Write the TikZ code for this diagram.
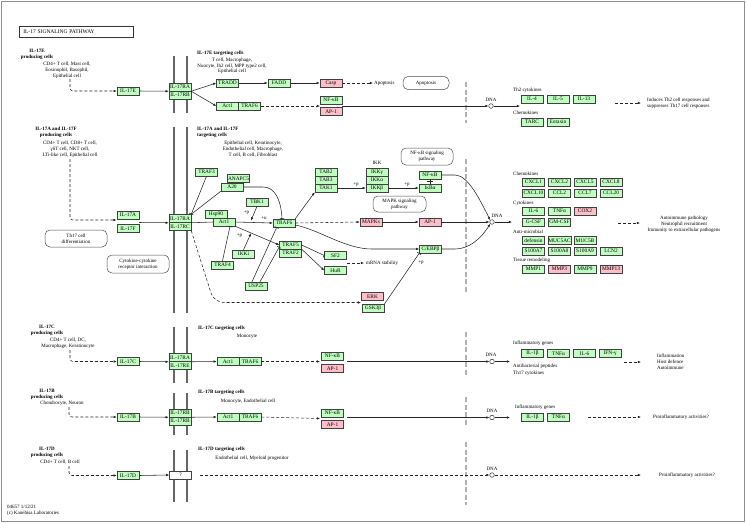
\documentclass[tikz,border=0pt]{standalone}
\usepackage{fontspec}
\setmainfont{Liberation Serif}
\usetikzlibrary{arrows.meta,calc}
\definecolor{kgreen}{RGB}{191,255,191}
\definecolor{kpink}{RGB}{255,190,200}
\newcommand\kgf{\fontsize{5}{6}\selectfont}
\newcommand\kgb{\fontsize{5.4}{6}\selectfont}
\begin{document}
\begin{tikzpicture}[x=1pt,y=-1pt,
 gene/.style={draw=black!75, fill=kgreen, minimum width=22pt, minimum height=8pt, inner sep=0pt, font=\kgb, line width=0.5pt},
 pgene/.style={gene, fill=kpink},
 wgene/.style={gene, fill=white},
 lbl/.style={font=\kgf, align=center, inner sep=0pt},
 blbl/.style={font=\kgf\bfseries, align=center, inner sep=0pt},
 pbox/.style={draw=black!70, rounded corners=5pt, font=\kgf, align=center, inner sep=0pt, line width=0.5pt},
 act/.style={draw=black!85, line width=0.55pt, -{Latex[length=3.2pt,width=2.6pt]}},
 inh/.style={draw=black!85, line width=0.55pt, -{Bar[width=4.5pt]}},
 ind/.style={act, dash pattern=on 3pt off 2pt},
 plain/.style={draw=black!85, line width=0.55pt},
 memb/.style={draw=black!60, line width=1.3pt},
 nuc/.style={draw=black!30, line width=2.4pt, dash pattern=on 5pt off 2.5pt},
 dnac/.style={circle, draw=black!80, fill=white, minimum size=4.6pt, inner sep=0pt, line width=0.5pt},
]
\useasboundingbox (0,0) rectangle (746,523);
\draw[draw=black!45, line width=1pt] (1.5,1.5) rectangle (744.5,521.5);

\node[draw=black!80, line width=0.6pt, minimum width=114pt, minimum height=11pt, inner xsep=4pt, text width=106pt, align=left, font=\fontsize{5.5}{6}\selectfont, anchor=west] (title) at (19,31.5) {IL-17 SIGNALING PATHWAY};

% membranes and nuclear envelope
\foreach \ya/\yb in {56/113, 127/313, 327/383, 393/435, 450/502} {
  \draw[memb] (174,\ya) -- (174,\yb);
  \draw[memb] (187,\ya) -- (187,\yb);
}
\foreach \ya/\yb in {82/123, 159/293, 332/377, 397/425, 442/505} \draw[nuc] (466,\ya) -- (466,\yb);

% ================= IL-17E =================
\node[blbl] (eP) at (37,54) {IL-17E\\producing cells};
\node[lbl] (ePC) at (67,70) {CD4+ T cell, Mast cell,\\Eosinophil, Basophil,\\Epithelial cell};
\node[gene] (il17e) at (128,91) {IL-17E};
\coordinate (eS) at (70,79);
\draw[ind, rounded corners=3pt] (eS) |- (il17e.west);
\node[gene] (eRA) at (180,87) {IL-17RA};
\node[gene] (eRB) at (180,95) {IL-17RB};
\draw[act] (il17e.east) -- (eRA.south west);
\node[blbl, anchor=west] (eT) at (197,53) {IL-17E targeting cells};
\node[lbl, font=\fontsize{5}{5.6}\selectfont] (eTC) at (232,66) {T cell, Macrophage,\\Nuocyte, Ih2 cell, MPP type2 cell,\\Epithelial cell};
\node[gene] (tradd) at (227.5,83) {TRADD};
\node[gene] (fadd) at (279,83) {FADD};
\node[pgene] (casp) at (331,83) {Casp};
\node[lbl, anchor=west] (apoT) at (374,83) {Apoptosis};
\node[pbox, minimum width=46pt, minimum height=13pt] (apoB) at (426,83) {Apoptosis};
\draw[act] (eRA.south east) -- (tradd.west);
\draw[act] (tradd) -- (fadd);
\draw[act] (fadd) -- (casp);
\draw[ind] (casp) -- ([xshift=-1pt]apoT.west);
\node[gene] (eact1) at (227.5,106) {Act1};
\node[gene] (etraf6) at (249.5,106) {TRAF6};
\draw[act] (eRA.south east) -- (eact1.west);
\node[gene] (enfkb) at (331,100) {NF-κB};
\node[pgene] (eap1) at (331,111.5) {AP-1};
\coordinate (eIn) at (320,106);
\coordinate (eOut) at (342,106);
\draw[ind] (etraf6.east) -- (eIn);
\node[dnac] (edna) at (491,106) {};
\node[lbl] (ednaT) at (491,99.5) {DNA};
\draw[act] (eOut) -- (edna.west);
\coordinate (eDn) at (520,106);
\draw[act] (edna.east) -- (eDn);
\node[lbl, anchor=west] (th2T) at (513,90) {Th2 cytokines};
\node[gene] (il4) at (532,99) {IL-4};
\node[gene] (il5) at (558,99) {IL-5};
\node[gene] (il13) at (584,99) {IL-13};
\node[lbl, anchor=west] (chemE) at (513,113) {Chemokines};
\node[gene] (tarc) at (532,122) {TARC};
\node[gene] (eotaxin) at (558,122) {Eotaxin};
\coordinate (eR1) at (615,103); \coordinate (eR2) at (641,103);
\draw[ind] (eR1) -- (eR2);
\node[lbl, anchor=west, align=left] (eRes) at (647,103) {Induces Th2 cell responses and\\suppresses Th17 cell responses};

% ================= IL-17A / IL-17F =================
\node[blbl] (afP) at (56,132) {IL-17A and IL-17F\\producing cells};
\node[lbl] (afPC) at (70,149) {CD4+ T cell, CD8+ T cell,\\γδT cell, NKT cell,\\LTi-like cell, Epithelial cell};
\node[gene] (il17a) at (128,215) {IL-17A};
\node[gene] (il17f) at (128,228.5) {IL-17F};
\coordinate (afS) at (70,159);
\coordinate (afIn) at (116.5,220);
\draw[ind, rounded corners=3pt] (afS) |- (afIn);
\node[gene] (afRA) at (180,218.5) {IL-17RA};
\node[gene] (afRC) at (180,226.5) {IL-17RC};
\coordinate (afOut) at (139,222.5);
\draw[act] (afOut) -- (afRA.south west);
\node[pbox, minimum width=62pt, minimum height=17pt] (th17) at (76,238.5) {Th17 cell\\differentiation};
\node[pbox, minimum width=62pt, minimum height=18pt] (ccr) at (138,264) {Cytokine-cytokine\\receptor interaction};
\node[blbl, anchor=west, align=left] (afT) at (197,132.5) {IL-17A and IL-17F\\targeting cells};
\node[lbl] (afTC) at (253,149) {Epithelial cell, Keratinocyte,\\Endothelial cell, Macrophage,\\T cell, B cell, Fibroblast};

\node[gene] (traf3) at (206.5,172) {TRAF3};
\node[gene] (anapc5) at (238.5,178.5) {ANAPC5};
\node[gene] (a20) at (232,187) {A20};
\node[gene] (tbk1) at (257,202) {TBK1};
\node[gene] (hsp90) at (216,214.5) {Hsp90};
\node[gene] (act1) at (224,222) {Act1};
\node[gene] (traf6) at (284,223) {TRAF6};
\node[gene] (traf5) at (290.5,245) {TRAF5};
\node[gene] (traf2) at (290.5,253) {TRAF2};
\node[gene] (ikki) at (243.5,254) {IKKi};
\node[gene] (traf4) at (222.5,265) {TRAF4};
\node[gene] (usp25) at (256,286) {USP25};
\node[gene] (sf2) at (335.5,255.5) {SF2};
\node[gene] (hur) at (335.5,270.5) {HuR};
\node[gene] (tab2) at (326,172) {TAB2};
\node[gene] (tab3) at (326,180) {TAB3};
\node[gene] (tak1) at (326,188) {TAK1};
\node[lbl] (ikkT) at (377,163) {IKK};
\node[gene] (ikkg) at (377,172) {IKKγ};
\node[gene] (ikka) at (377,180) {IKKα};
\node[gene] (ikkb) at (377,188) {IKKβ};
\node[gene] (nfkb) at (430,175) {NF-κB};
\node[gene] (ikba) at (430,188) {IκBα};
\node[pbox, minimum width=52pt, minimum height=17pt] (nfkbP) at (427,156.5) {NF-κB signaling\\pathway};
\node[pbox, minimum width=53pt, minimum height=16pt] (mapkP) at (399.5,204) {MAPK signaling\\pathway};
\node[pgene] (mapks) at (371,222) {MAPKs};
\node[pgene] (ap1) at (430,222) {AP-1};
\node[gene] (cebpb) at (430.5,249) {C/EBPβ};
\node[pgene] (erk) at (372.5,296.5) {ERK};
\node[gene] (gsk3b) at (373,308.5) {GSK3β};

\draw[inh] (traf3.south) -- (afRA.north east);
\draw[plain] (a20.south west) -- (afRA.north east);
\draw[inh] (a20.east) -- (263,187) .. controls (275,187) and (281,200) .. ([xshift=-2pt]traf6.north);
\draw[plain] (afRA.south east) -- (act1.west);
\draw[act] (act1.east) -- (traf6.west);
\node[lbl] (pu) at (264,218.5) {+u};
\coordinate (tbkE) at (251,220.5);
\draw[act] (tbk1.south) -- (tbkE);
\node[lbl] (pp1) at (246.5,212.5) {+p};
\draw[act] (act1.south east) -- (traf5.west);
\coordinate (ikkiE) at (251,233.2);
\draw[act] (ikki.north) -- (ikkiE);
\node[lbl] (pp2) at (239.5,235.5) {+p};
\draw[inh] (traf4.north) -- ([xshift=6pt]act1.south);
\draw[inh] ([xshift=-4pt]usp25.north) -- ([xshift=4pt]traf6.south west);
\draw[inh] ([xshift=4pt]usp25.north) -- ($(traf5.west)+(0,2)$);
\draw[inh] (traf5.east) -- (sf2.west);
\draw[act] (traf5.south east) -- (hur.west);
\coordinate (mS) at (347,263);
\node[lbl, anchor=west] (mrna) at (366,263) {mRNA stability};
\draw[ind] (mS) -- ([xshift=-2pt]mrna.west);
\draw[act] (traf6.north east) -- (tak1.south west);
\draw[act] (tak1.east) -- (ikkb.west);
\node[lbl] (pp3) at (356,184.5) {+p};
\draw[act] (ikkb.east) -- (ikba.west);
\node[lbl] (pp4) at (407,184.5) {+p};
\draw[plain] (nfkb.south) -- (ikba.north);
\coordinate (nkm) at (430,181.5);
\draw[plain] ([xshift=-3pt]nkm) -- ([xshift=3pt]nkm);
\draw[ind] (traf6.east) -- (mapks.west);
\draw[act] (mapks.east) -- (ap1.west);
\draw[act] ($(traf6.east)+(0,2)$) .. controls (320,230) and (345,249) .. (372,249) -- (cebpb.west);
\draw[inh] (gsk3b.north east) -- (cebpb.south west);
\node[lbl] (pp5) at (421,263) {+p};
\coordinate (egIn) at (361,302.5);
\draw[ind] (afRC.south east) -- (211,293) .. controls (214,300) and (218,302.5) .. (226,302.5) -- (egIn);

\node[dnac] (afdna) at (492,222) {};
\node[lbl] (afdnaT) at (497,216) {DNA};
\draw[act] (nfkb.east) -- (455,175) .. controls (468,175) and (480,200) .. (afdna.north west);
\draw[act] (ap1.east) -- (afdna.west);
\draw[act] (cebpb.east) -- (455,249) .. controls (468,249) and (480,240) .. (afdna.south west);
\coordinate (afDn) at (512,222);
\draw[act] (afdna.east) -- (afDn);

\begin{scope}[every node/.append style={minimum width=23pt}]
\node[lbl, anchor=west, minimum width=0pt] (chemAF) at (513,174) {Chemokines};
\node[gene] (cxcl1) at (533.5,182) {CXCL1};
\node[gene] (cxcl2) at (559.5,182) {CXCL2};
\node[gene] (cxcl5) at (585,182) {CXCL5};
\node[gene] (cxcl8) at (611,182) {CXCL8};
\node[gene] (cxcl10) at (533.5,193) {CXCL10};
\node[gene] (ccl2) at (559.5,193) {CCL2};
\node[gene] (ccl7) at (585,193) {CCL7};
\node[gene] (ccl20) at (611,193) {CCL20};
\node[lbl, anchor=west, minimum width=0pt] (cytoAF) at (513,203) {Cytokines};
\node[gene] (il6a) at (533.5,211) {IL-6};
\node[gene] (tnfa) at (559.5,211) {TNFα};
\node[pgene] (cox2) at (585,211) {COX2};
\node[gene] (gcsf) at (533.5,222) {G-CSF};
\node[gene] (gmcsf) at (559.5,222) {GM-CSF};
\node[lbl, anchor=west, minimum width=0pt] (antiAF) at (513,232) {Anti-microbial};
\node[gene] (defensin) at (533.5,240.5) {defensin};
\node[gene] (muc5ac) at (559.5,240.5) {MUC5AC};
\node[gene] (muc5b) at (585,240.5) {MUC5B};
\node[gene] (s100a7) at (533.5,251) {S100A7};
\node[gene] (s100a8) at (559.5,251) {S100A8};
\node[gene] (s100a9) at (585,251) {S100A9};
\node[gene] (lcn2) at (611,251) {LCN2};
\node[lbl, anchor=west, minimum width=0pt] (tisAF) at (513,260) {Tissue remodeling};
\node[gene] (mmp1) at (533.5,269) {MMP1};
\node[pgene] (mmp3) at (559.5,269) {MMP3};
\node[gene] (mmp9) at (585,269) {MMP9};
\node[pgene] (mmp13) at (611,269) {MMP13};
\end{scope}
\coordinate (afR1) at (618,223); \coordinate (afR2) at (640,223);
\draw[ind] (afR1) -- (afR2);
\node[lbl] (afRes) at (684,224) {Autoimmune pathology\\Neutrophil recruitment\\Immunity to extracellular pathogens};

% ================= IL-17C =================
\node[blbl] (cP) at (47,330) {IL-17C\\producing cells};
\node[lbl] (cPC) at (68,343) {CD4+ T cell, DC,\\Macrophage, Keratinocyte};
\node[gene] (il17c) at (128,361.5) {IL-17C};
\coordinate (cS) at (70,350);
\draw[ind, rounded corners=3pt] (cS) |- (il17c.west);
\node[gene] (cRA) at (180,357.5) {IL-17RA};
\node[gene] (cRE) at (180,365.5) {IL-17RE};
\draw[act] (il17c.east) -- (cRA.south west);
\node[blbl, anchor=west] (cT) at (198,328) {IL-17C targeting cells};
\node[lbl] (cTC) at (247,336) {Monocyte};
\node[gene] (cact1) at (228,361.5) {Act1};
\node[gene] (ctraf6) at (250,361.5) {TRAF6};
\draw[act] (cRA.south east) -- (cact1.west);
\node[gene] (cnfkb) at (332.5,356) {NF-κB};
\node[pgene] (cap1) at (332.5,368.5) {AP-1};
\coordinate (cIn) at (320,361.5);
\coordinate (cOut) at (347,361.5);
\draw[ind] (ctraf6.east) -- (cIn);
\node[dnac] (cdna) at (492,361.5) {};
\node[lbl] (cdnaT) at (491,355) {DNA};
\draw[act] (cOut) -- (cdna.west);
\coordinate (cDn) at (510,361.5);
\draw[act] (cdna.east) -- (cDn);
\node[lbl, anchor=west] (cInfT) at (513,343) {Inflammatory genes};
\node[gene] (cil1b) at (532.5,353.5) {IL-1β};
\node[gene] (ctnfa) at (558.5,353.5) {TNFα};
\node[gene] (cil6) at (584.5,353.5) {IL-6};
\node[gene] (cifng) at (610,353.5) {IFN-γ};
\node[lbl, anchor=west] (cAbT) at (513,366) {Antibacterial peptides};
\node[lbl, anchor=west] (cThT) at (513,373) {Th17 cytokines};
\coordinate (cR1) at (624,362); \coordinate (cR2) at (641,362);
\draw[ind] (cR1) -- (cR2);
\node[lbl, anchor=west, align=left] (cRes) at (657,362) {Inflammation\\Host defence\\Autoimmune};

% ================= IL-17B =================
\node[blbl] (bP) at (47,394) {IL-17B\\producing cells};
\node[lbl] (bPC) at (62,403) {Chondrocyte, Neuron};
\node[gene] (il17b) at (128,417) {IL-17B};
\coordinate (bS) at (69,407);
\draw[ind, rounded corners=3pt] (bS) |- (il17b.west);
\node[gene] (bRB1) at (180,413) {IL-17RB};
\node[gene] (bRB2) at (180,421) {IL-17RB};
\draw[act] (il17b.east) -- (bRB1.south west);
\node[blbl, anchor=west] (bT) at (198,392) {IL-17B targeting cells};
\node[lbl] (bTC) at (248,401) {Monocyte, Endothelial cell};
\node[gene] (bact1) at (228,417) {Act1};
\node[gene] (btraf6) at (250,417) {TRAF6};
\draw[act] (bRB1.south east) -- (bact1.west);
\node[gene] (bnfkb) at (332.5,413) {NF-κB};
\node[pgene] (bap1) at (332.5,424.5) {AP-1};
\coordinate (bIn) at (320,418.5);
\coordinate (bOut) at (347,417.5);
\draw[ind] (btraf6.east) -- (bIn);
\node[dnac] (bdna) at (492,417.5) {};
\node[lbl] (bdnaT) at (492,410.5) {DNA};
\draw[act] (bOut) -- (bdna.west);
\coordinate (bDn) at (510,417.5);
\draw[act] (bdna.east) -- (bDn);
\node[lbl, anchor=west] (bInfT) at (515,407) {Inflammatory genes};
\node[gene] (bil1b) at (532.5,417) {IL-1β};
\node[gene] (btnfa) at (558.5,417) {TNFα};
\coordinate (bR1) at (588,417); \coordinate (bR2) at (641,417);
\draw[ind] (bR1) -- (bR2);
\node[lbl, anchor=west] (bRes) at (653,417) {Proinflammatory activities?};

% ================= IL-17D =================
\node[blbl] (dP) at (47,452) {IL-17D\\producing cells};
\node[lbl] (dPC) at (60,462) {CD4+ T cell, B cell};
\node[gene] (il17d) at (128,475.5) {IL-17D};
\coordinate (dS) at (69,466);
\draw[ind, rounded corners=3pt] (dS) |- (il17d.west);
\node[wgene] (qbox) at (180.5,475) {?};
\draw[act] (il17d.east) -- (qbox.west);
\node[blbl, anchor=west] (dT) at (198,449) {IL-17D targeting cells};
\node[lbl] (dTC) at (252,458) {Endothelial cell, Myeloid progenitor};
\node[dnac] (ddna) at (492,475) {};
\node[lbl] (ddnaT) at (492,468.5) {DNA};
\draw[ind] ([xshift=8pt]qbox.east) -- (ddna.west);
\coordinate (dR2) at (641,475);
\draw[ind] (ddna.east) -- (dR2);
\node[lbl, anchor=west] (dRes) at (659,475) {Proinflammatory activities?};

\node[lbl, anchor=west, align=left] (foot) at (7,510) {04657 1/12/21\\(c) Kanehisa Laboratories};
\end{tikzpicture}
\end{document}
